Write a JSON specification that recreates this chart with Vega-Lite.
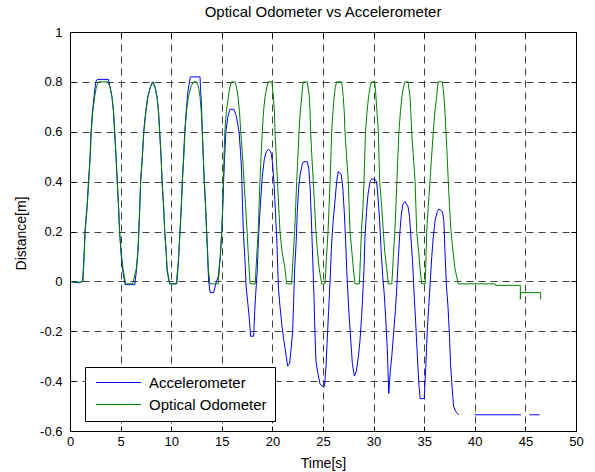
{
  "$schema": "https://vega.github.io/schema/vega-lite/v6.json",
  "width": 506,
  "height": 399,
  "autosize": "none",
  "padding": {"left": 70, "top": 32, "right": 19, "bottom": 41},
  "background": "#ffffff",
  "title": {"text": "Optical Odometer vs Accelerometer", "font": "Liberation Sans", "fontSize": 15, "fontWeight": "normal", "color": "#000000", "anchor": "middle", "frame": "group", "baseline": "alphabetic", "offset": -6},
  "config": {
    "view": {"stroke": "#000000", "strokeWidth": 1},
    "axis": {"domain": false, "labelFont": "Liberation Sans", "labelFontSize": 13, "labelColor": "#000000", "tickColor": "#000000", "tickSize": -5, "tickWidth": 1, "titleFont": "Liberation Sans", "titleFontSize": 14, "titleFontWeight": "normal", "titleColor": "#000000", "labelFlush": false, "labelOverlap": false}
  },
  "datasets": {
    "acc": [
      {"seg":1,"t":0,"v":0},{"seg":1,"t":0.5,"v":-0.005},{"seg":1,"t":1.0,"v":-0.005},{"seg":1,"t":1.25,"v":0.0},{"seg":1,"t":1.38,"v":0.1},{"seg":1,"t":1.48,"v":0.2},{"seg":1,"t":1.68,"v":0.3},{"seg":1,"t":1.83,"v":0.4},{"seg":1,"t":1.98,"v":0.5},{"seg":1,"t":2.08,"v":0.6},{"seg":1,"t":2.22,"v":0.68},{"seg":1,"t":2.4,"v":0.75},{"seg":1,"t":2.55,"v":0.8},{"seg":1,"t":2.7,"v":0.81},{"seg":1,"t":3.8,"v":0.81},{"seg":1,"t":3.95,"v":0.78},{"seg":1,"t":4.15,"v":0.74},{"seg":1,"t":4.3,"v":0.68},{"seg":1,"t":4.42,"v":0.6},{"seg":1,"t":4.55,"v":0.5},{"seg":1,"t":4.67,"v":0.4},{"seg":1,"t":4.8,"v":0.3},{"seg":1,"t":4.9,"v":0.2},{"seg":1,"t":5.05,"v":0.11},{"seg":1,"t":5.22,"v":0.04},{"seg":1,"t":5.45,"v":-0.013},{"seg":1,"t":6.4,"v":-0.013},{"seg":1,"t":6.58,"v":0.05},{"seg":1,"t":6.72,"v":0.12},{"seg":1,"t":6.8,"v":0.2},{"seg":1,"t":6.9,"v":0.3},{"seg":1,"t":6.98,"v":0.4},{"seg":1,"t":7.15,"v":0.5},{"seg":1,"t":7.28,"v":0.6},{"seg":1,"t":7.48,"v":0.68},{"seg":1,"t":7.68,"v":0.74},{"seg":1,"t":7.95,"v":0.78},{"seg":1,"t":8.15,"v":0.8},{"seg":1,"t":8.4,"v":0.78},{"seg":1,"t":8.6,"v":0.74},{"seg":1,"t":8.75,"v":0.68},{"seg":1,"t":8.86,"v":0.6},{"seg":1,"t":9.0,"v":0.5},{"seg":1,"t":9.1,"v":0.4},{"seg":1,"t":9.25,"v":0.3},{"seg":1,"t":9.36,"v":0.2},{"seg":1,"t":9.5,"v":0.12},{"seg":1,"t":9.6,"v":0.04},{"seg":1,"t":9.85,"v":-0.01},{"seg":1,"t":10.55,"v":-0.01},{"seg":1,"t":10.72,"v":0.08},{"seg":1,"t":10.87,"v":0.2},{"seg":1,"t":11.0,"v":0.3},{"seg":1,"t":11.1,"v":0.4},{"seg":1,"t":11.22,"v":0.5},{"seg":1,"t":11.34,"v":0.6},{"seg":1,"t":11.48,"v":0.68},{"seg":1,"t":11.62,"v":0.75},{"seg":1,"t":11.8,"v":0.8},{"seg":1,"t":11.9,"v":0.82},{"seg":1,"t":12.85,"v":0.82},{"seg":1,"t":12.9,"v":0.77},{"seg":1,"t":13.0,"v":0.7},{"seg":1,"t":13.07,"v":0.6},{"seg":1,"t":13.17,"v":0.5},{"seg":1,"t":13.27,"v":0.4},{"seg":1,"t":13.4,"v":0.3},{"seg":1,"t":13.5,"v":0.2},{"seg":1,"t":13.6,"v":0.1},{"seg":1,"t":13.7,"v":0.0},{"seg":1,"t":13.85,"v":-0.045},{"seg":1,"t":14.2,"v":-0.045},{"seg":1,"t":14.4,"v":-0.01},{"seg":1,"t":14.65,"v":0.02},{"seg":1,"t":14.85,"v":0.1},{"seg":1,"t":15.0,"v":0.2},{"seg":1,"t":15.1,"v":0.3},{"seg":1,"t":15.18,"v":0.4},{"seg":1,"t":15.28,"v":0.5},{"seg":1,"t":15.4,"v":0.6},{"seg":1,"t":15.6,"v":0.66},{"seg":1,"t":15.8,"v":0.69},{"seg":1,"t":16.2,"v":0.69},{"seg":1,"t":16.45,"v":0.66},{"seg":1,"t":16.7,"v":0.6},{"seg":1,"t":16.85,"v":0.52},{"seg":1,"t":16.96,"v":0.44},{"seg":1,"t":17.05,"v":0.3},{"seg":1,"t":17.15,"v":0.18},{"seg":1,"t":17.3,"v":0.08},{"seg":1,"t":17.4,"v":-0.02},{"seg":1,"t":17.55,"v":-0.08},{"seg":1,"t":17.7,"v":-0.14},{"seg":1,"t":17.85,"v":-0.22},{"seg":1,"t":18.15,"v":-0.22},{"seg":1,"t":18.25,"v":-0.12},{"seg":1,"t":18.35,"v":-0.05},{"seg":1,"t":18.5,"v":0.04},{"seg":1,"t":18.6,"v":0.15},{"seg":1,"t":18.7,"v":0.23},{"seg":1,"t":18.85,"v":0.33},{"seg":1,"t":19.0,"v":0.42},{"seg":1,"t":19.2,"v":0.49},{"seg":1,"t":19.4,"v":0.52},{"seg":1,"t":19.6,"v":0.53},{"seg":1,"t":19.85,"v":0.52},{"seg":1,"t":20.0,"v":0.48},{"seg":1,"t":20.15,"v":0.4},{"seg":1,"t":20.3,"v":0.28},{"seg":1,"t":20.45,"v":0.15},{"seg":1,"t":20.6,"v":-0.03},{"seg":1,"t":20.75,"v":-0.1},{"seg":1,"t":20.95,"v":-0.18},{"seg":1,"t":21.1,"v":-0.23},{"seg":1,"t":21.3,"v":-0.28},{"seg":1,"t":21.5,"v":-0.34},{"seg":1,"t":21.7,"v":-0.33},{"seg":1,"t":21.85,"v":-0.27},{"seg":1,"t":22.0,"v":-0.2},{"seg":1,"t":22.1,"v":-0.08},{"seg":1,"t":22.2,"v":0.05},{"seg":1,"t":22.35,"v":0.16},{"seg":1,"t":22.46,"v":0.28},{"seg":1,"t":22.6,"v":0.38},{"seg":1,"t":22.75,"v":0.43},{"seg":1,"t":22.95,"v":0.47},{"seg":1,"t":23.1,"v":0.48},{"seg":1,"t":23.45,"v":0.48},{"seg":1,"t":23.6,"v":0.45},{"seg":1,"t":23.72,"v":0.38},{"seg":1,"t":23.85,"v":0.25},{"seg":1,"t":24.0,"v":0.07},{"seg":1,"t":24.1,"v":-0.05},{"seg":1,"t":24.2,"v":-0.2},{"seg":1,"t":24.3,"v":-0.32},{"seg":1,"t":24.5,"v":-0.37},{"seg":1,"t":24.7,"v":-0.41},{"seg":1,"t":24.9,"v":-0.42},{"seg":1,"t":25.15,"v":-0.42},{"seg":1,"t":25.3,"v":-0.34},{"seg":1,"t":25.4,"v":-0.25},{"seg":1,"t":25.55,"v":-0.12},{"seg":1,"t":25.7,"v":0.0},{"seg":1,"t":25.85,"v":0.15},{"seg":1,"t":26.0,"v":0.24},{"seg":1,"t":26.2,"v":0.33},{"seg":1,"t":26.35,"v":0.4},{"seg":1,"t":26.5,"v":0.44},{"seg":1,"t":26.8,"v":0.43},{"seg":1,"t":26.95,"v":0.38},{"seg":1,"t":27.1,"v":0.28},{"seg":1,"t":27.25,"v":0.15},{"seg":1,"t":27.35,"v":0.04},{"seg":1,"t":27.5,"v":-0.08},{"seg":1,"t":27.6,"v":-0.15},{"seg":1,"t":27.75,"v":-0.24},{"seg":1,"t":27.9,"v":-0.33},{"seg":1,"t":28.1,"v":-0.38},{"seg":1,"t":28.3,"v":-0.36},{"seg":1,"t":28.5,"v":-0.3},{"seg":1,"t":28.65,"v":-0.24},{"seg":1,"t":28.8,"v":-0.15},{"seg":1,"t":28.9,"v":-0.08},{"seg":1,"t":29.05,"v":0.05},{"seg":1,"t":29.15,"v":0.18},{"seg":1,"t":29.3,"v":0.28},{"seg":1,"t":29.45,"v":0.35},{"seg":1,"t":29.65,"v":0.4},{"seg":1,"t":29.8,"v":0.41},{"seg":1,"t":30.1,"v":0.41},{"seg":1,"t":30.3,"v":0.4},{"seg":1,"t":30.45,"v":0.33},{"seg":1,"t":30.6,"v":0.24},{"seg":1,"t":30.75,"v":0.12},{"seg":1,"t":30.9,"v":0.02},{"seg":1,"t":31.05,"v":-0.05},{"seg":1,"t":31.2,"v":-0.15},{"seg":1,"t":31.35,"v":-0.27},{"seg":1,"t":31.5,"v":-0.45},{"seg":1,"t":31.65,"v":-0.36},{"seg":1,"t":31.8,"v":-0.3},{"seg":1,"t":31.95,"v":-0.22},{"seg":1,"t":32.15,"v":-0.12},{"seg":1,"t":32.3,"v":-0.02},{"seg":1,"t":32.45,"v":0.1},{"seg":1,"t":32.6,"v":0.2},{"seg":1,"t":32.75,"v":0.27},{"seg":1,"t":32.9,"v":0.31},{"seg":1,"t":33.1,"v":0.32},{"seg":1,"t":33.4,"v":0.3},{"seg":1,"t":33.55,"v":0.26},{"seg":1,"t":33.7,"v":0.17},{"seg":1,"t":33.85,"v":0.08},{"seg":1,"t":34.0,"v":-0.05},{"seg":1,"t":34.15,"v":-0.16},{"seg":1,"t":34.3,"v":-0.28},{"seg":1,"t":34.45,"v":-0.4},{"seg":1,"t":34.6,"v":-0.47},{"seg":1,"t":35.0,"v":-0.47},{"seg":1,"t":35.15,"v":-0.35},{"seg":1,"t":35.3,"v":-0.2},{"seg":1,"t":35.45,"v":-0.1},{"seg":1,"t":35.6,"v":0.0},{"seg":1,"t":35.75,"v":0.1},{"seg":1,"t":35.9,"v":0.18},{"seg":1,"t":36.1,"v":0.25},{"seg":1,"t":36.3,"v":0.28},{"seg":1,"t":36.45,"v":0.29},{"seg":1,"t":36.8,"v":0.28},{"seg":1,"t":36.95,"v":0.24},{"seg":1,"t":37.05,"v":0.12},{"seg":1,"t":37.2,"v":-0.02},{"seg":1,"t":37.35,"v":-0.1},{"seg":1,"t":37.5,"v":-0.22},{"seg":1,"t":37.6,"v":-0.33},{"seg":1,"t":37.75,"v":-0.42},{"seg":1,"t":37.9,"v":-0.5},{"seg":1,"t":38.1,"v":-0.52},{"seg":1,"t":38.4,"v":-0.535},
      {"seg":2,"t":40.0,"v":-0.535},{"seg":2,"t":44.55,"v":-0.535},
      {"seg":3,"t":45.4,"v":-0.535},{"seg":3,"t":46.4,"v":-0.535}
    ],
    "odo": [
      {"t":0,"v":0},{"t":0.5,"v":-0.003},{"t":1.0,"v":-0.003},{"t":1.28,"v":0.0},{"t":1.4,"v":0.1},{"t":1.5,"v":0.2},{"t":1.7,"v":0.3},{"t":1.85,"v":0.4},{"t":2.0,"v":0.5},{"t":2.1,"v":0.6},{"t":2.25,"v":0.68},{"t":2.44,"v":0.74},{"t":2.6,"v":0.78},{"t":2.8,"v":0.8},{"t":3.75,"v":0.8},{"t":3.95,"v":0.78},{"t":4.15,"v":0.74},{"t":4.3,"v":0.68},{"t":4.4,"v":0.6},{"t":4.55,"v":0.5},{"t":4.67,"v":0.4},{"t":4.8,"v":0.3},{"t":4.9,"v":0.2},{"t":5.05,"v":0.12},{"t":5.24,"v":0.05},{"t":5.5,"v":-0.01},{"t":6.2,"v":-0.01},{"t":6.55,"v":0.05},{"t":6.7,"v":0.12},{"t":6.8,"v":0.2},{"t":6.9,"v":0.3},{"t":6.98,"v":0.4},{"t":7.15,"v":0.5},{"t":7.3,"v":0.6},{"t":7.5,"v":0.68},{"t":7.7,"v":0.74},{"t":7.95,"v":0.78},{"t":8.2,"v":0.8},{"t":8.4,"v":0.78},{"t":8.6,"v":0.74},{"t":8.75,"v":0.68},{"t":8.86,"v":0.6},{"t":9.0,"v":0.5},{"t":9.1,"v":0.4},{"t":9.25,"v":0.3},{"t":9.36,"v":0.2},{"t":9.5,"v":0.12},{"t":9.6,"v":0.05},{"t":9.85,"v":-0.01},{"t":10.5,"v":-0.01},{"t":10.7,"v":0.08},{"t":10.87,"v":0.2},{"t":11.0,"v":0.3},{"t":11.1,"v":0.4},{"t":11.25,"v":0.5},{"t":11.36,"v":0.6},{"t":11.5,"v":0.68},{"t":11.7,"v":0.74},{"t":11.95,"v":0.78},{"t":12.2,"v":0.8},{"t":12.5,"v":0.8},{"t":12.7,"v":0.78},{"t":12.85,"v":0.74},{"t":12.97,"v":0.68},{"t":13.07,"v":0.6},{"t":13.17,"v":0.5},{"t":13.27,"v":0.4},{"t":13.4,"v":0.3},{"t":13.5,"v":0.2},{"t":13.6,"v":0.12},{"t":13.67,"v":0.05},{"t":13.83,"v":-0.01},{"t":14.65,"v":-0.01},{"t":14.85,"v":0.1},{"t":15.0,"v":0.2},{"t":15.08,"v":0.3},{"t":15.15,"v":0.4},{"t":15.22,"v":0.5},{"t":15.3,"v":0.6},{"t":15.45,"v":0.68},{"t":15.65,"v":0.74},{"t":15.8,"v":0.78},{"t":15.97,"v":0.8},{"t":16.3,"v":0.8},{"t":16.45,"v":0.78},{"t":16.6,"v":0.74},{"t":16.75,"v":0.68},{"t":16.87,"v":0.6},{"t":17.05,"v":0.5},{"t":17.2,"v":0.4},{"t":17.35,"v":0.3},{"t":17.5,"v":0.2},{"t":17.6,"v":0.12},{"t":17.7,"v":0.05},{"t":17.8,"v":-0.01},{"t":18.3,"v":-0.01},{"t":18.45,"v":0.1},{"t":18.6,"v":0.2},{"t":18.68,"v":0.3},{"t":18.77,"v":0.4},{"t":18.88,"v":0.5},{"t":19.0,"v":0.6},{"t":19.12,"v":0.68},{"t":19.27,"v":0.74},{"t":19.45,"v":0.78},{"t":19.6,"v":0.8},{"t":19.95,"v":0.8},{"t":20.1,"v":0.74},{"t":20.2,"v":0.68},{"t":20.26,"v":0.6},{"t":20.38,"v":0.5},{"t":20.5,"v":0.4},{"t":20.62,"v":0.3},{"t":20.75,"v":0.2},{"t":20.95,"v":0.12},{"t":21.25,"v":0.05},{"t":21.4,"v":-0.01},{"t":21.9,"v":-0.01},{"t":22.05,"v":0.1},{"t":22.2,"v":0.2},{"t":22.3,"v":0.3},{"t":22.4,"v":0.4},{"t":22.52,"v":0.5},{"t":22.63,"v":0.6},{"t":22.75,"v":0.68},{"t":22.9,"v":0.74},{"t":22.98,"v":0.78},{"t":23.05,"v":0.8},{"t":23.45,"v":0.8},{"t":23.55,"v":0.77},{"t":23.65,"v":0.74},{"t":23.72,"v":0.68},{"t":23.78,"v":0.6},{"t":23.9,"v":0.5},{"t":24.04,"v":0.4},{"t":24.17,"v":0.3},{"t":24.3,"v":0.2},{"t":24.45,"v":0.12},{"t":24.63,"v":0.05},{"t":24.87,"v":-0.01},{"t":25.2,"v":-0.01},{"t":25.35,"v":0.1},{"t":25.5,"v":0.2},{"t":25.6,"v":0.3},{"t":25.7,"v":0.4},{"t":25.78,"v":0.5},{"t":25.86,"v":0.6},{"t":25.98,"v":0.68},{"t":26.1,"v":0.74},{"t":26.22,"v":0.78},{"t":26.35,"v":0.8},{"t":26.85,"v":0.8},{"t":26.93,"v":0.77},{"t":27.0,"v":0.74},{"t":27.1,"v":0.68},{"t":27.17,"v":0.6},{"t":27.33,"v":0.5},{"t":27.5,"v":0.4},{"t":27.58,"v":0.3},{"t":27.67,"v":0.2},{"t":27.85,"v":0.12},{"t":28.0,"v":0.05},{"t":28.16,"v":-0.01},{"t":28.6,"v":-0.01},{"t":28.7,"v":0.1},{"t":28.8,"v":0.2},{"t":28.95,"v":0.3},{"t":29.05,"v":0.4},{"t":29.12,"v":0.5},{"t":29.2,"v":0.6},{"t":29.35,"v":0.68},{"t":29.5,"v":0.74},{"t":29.65,"v":0.78},{"t":29.8,"v":0.8},{"t":30.1,"v":0.8},{"t":30.2,"v":0.76},{"t":30.3,"v":0.7},{"t":30.4,"v":0.64},{"t":30.47,"v":0.6},{"t":30.53,"v":0.5},{"t":30.6,"v":0.4},{"t":30.8,"v":0.3},{"t":30.96,"v":0.2},{"t":31.1,"v":0.12},{"t":31.3,"v":0.05},{"t":31.45,"v":-0.01},{"t":31.8,"v":-0.01},{"t":31.95,"v":0.1},{"t":32.1,"v":0.2},{"t":32.2,"v":0.3},{"t":32.3,"v":0.4},{"t":32.4,"v":0.5},{"t":32.5,"v":0.6},{"t":32.65,"v":0.68},{"t":32.8,"v":0.74},{"t":32.95,"v":0.78},{"t":33.1,"v":0.8},{"t":33.4,"v":0.8},{"t":33.5,"v":0.77},{"t":33.6,"v":0.74},{"t":33.68,"v":0.68},{"t":33.76,"v":0.6},{"t":33.93,"v":0.5},{"t":34.1,"v":0.4},{"t":34.18,"v":0.3},{"t":34.26,"v":0.2},{"t":34.45,"v":0.12},{"t":34.6,"v":0.05},{"t":34.75,"v":-0.01},{"t":35.1,"v":-0.01},{"t":35.18,"v":0.1},{"t":35.25,"v":0.2},{"t":35.4,"v":0.3},{"t":35.57,"v":0.4},{"t":35.73,"v":0.5},{"t":35.9,"v":0.6},{"t":36.05,"v":0.68},{"t":36.23,"v":0.74},{"t":36.32,"v":0.78},{"t":36.4,"v":0.8},{"t":36.8,"v":0.8},{"t":36.88,"v":0.77},{"t":36.96,"v":0.74},{"t":37.05,"v":0.68},{"t":37.15,"v":0.6},{"t":37.27,"v":0.5},{"t":37.38,"v":0.4},{"t":37.5,"v":0.3},{"t":37.65,"v":0.2},{"t":37.85,"v":0.12},{"t":38.04,"v":0.05},{"t":38.37,"v":-0.01},{"t":42.0,"v":-0.01},{"t":42.05,"v":-0.016},{"t":44.5,"v":-0.016},{"t":44.5,"v":-0.072},{"t":44.52,"v":-0.045},{"t":46.5,"v":-0.045},{"t":46.5,"v":-0.072}
    ]
  },
  "layer": [
    {
      "data": {"name": "acc"},
      "mark": {"type": "line", "strokeWidth": 1, "clip": true},
      "encoding": {
        "x": {"field": "t", "type": "quantitative", "scale": {"domain": [0, 50], "nice": false, "zero": false},
          "axis": {"orient": "bottom", "values": [0,5,10,15,20,25,30,35,40,45,50], "labelExpr": "toString(datum.value)", "grid": true, "gridDash": [7,5], "gridColor": "#000000", "gridOpacity": 0.75, "gridWidth": 1, "labelPadding": 9, "title": "Time[s]", "titleX": 253, "titleY": 36, "titleBaseline": "alphabetic", "titleAlign": "center"}},
        "y": {"field": "v", "type": "quantitative", "scale": {"domain": [-0.6, 1], "nice": false, "zero": false},
          "axis": {"orient": "left", "values": [-0.6,-0.4,-0.2,0,0.2,0.4,0.6,0.8,1], "labelExpr": "toString(datum.value)", "grid": true, "gridDash": [7,5], "gridColor": "#000000", "gridOpacity": 0.75, "gridWidth": 1, "labelPadding": 13, "title": "Distance[m]", "titleX": -45, "titleY": 201, "titleBaseline": "alphabetic", "titleAlign": "center", "titleAngle": -90}},
        "color": {"datum": "Accelerometer", "type": "nominal", "scale": {"domain": ["Accelerometer", "Optical Odometer"], "range": ["#0000ff", "#008000"]},
          "legend": {"orient": "none", "legendX": 15, "legendY": 335, "title": null, "symbolType": "M-1,0H9", "symbolSize": 81, "symbolStrokeWidth": 1, "labelOffset": 41, "labelFont": "Liberation Sans", "labelFontSize": 15, "labelColor": "#000000", "fillColor": "#ffffff", "strokeColor": "#000000", "padding": 8, "rowPadding": 6}},
        "detail": {"field": "seg", "type": "nominal"}
      }
    },
    {
      "data": {"name": "odo"},
      "mark": {"type": "line", "strokeWidth": 1, "clip": true},
      "encoding": {
        "x": {"field": "t", "type": "quantitative", "scale": {"domain": [0, 50], "nice": false, "zero": false},
          "axis": {"orient": "top", "values": [0,5,10,15,20,25,30,35,40,45,50], "labels": false, "grid": false, "title": null}},
        "y": {"field": "v", "type": "quantitative", "scale": {"domain": [-0.6, 1], "nice": false, "zero": false},
          "axis": {"orient": "right", "values": [-0.6,-0.4,-0.2,0,0.2,0.4,0.6,0.8,1], "labels": false, "grid": false, "title": null}},
        "color": {"datum": "Optical Odometer", "type": "nominal"},
        "order": {"value": null}
      }
    }
  ],
  "resolve": {"axis": {"x": "independent", "y": "independent"}}
}
